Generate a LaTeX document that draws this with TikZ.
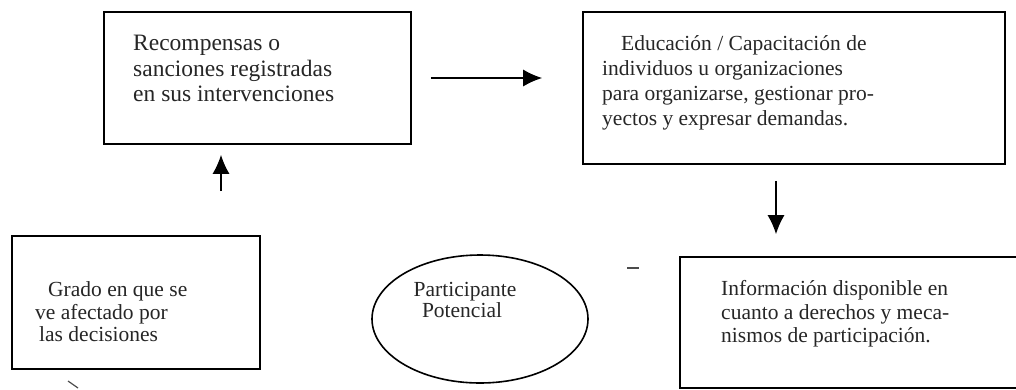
\documentclass[tikz,border=0pt]{standalone}
\usepackage{fontspec}
\setmainfont{Liberation Serif}
\usetikzlibrary{arrows.meta,shapes.geometric}
\begin{document}
\begin{tikzpicture}[x=1pt,y=-1pt,
  box/.style={draw, line width=1.6pt, rectangle, inner sep=0pt},
  txt/.style={anchor=base west, inner sep=0pt, text=black!85, font=\fontsize{21.5}{24}\selectfont},
  bigtxt/.style={txt, font=\fontsize{23.5}{26}\selectfont},
  ctxt/.style={txt, anchor=base},
  arr/.style={line width=1.5pt, -{Latex[length=19pt,width=17pt]}},
  speck/.style={line width=1.2pt, black!70}]
\useasboundingbox (0,0) rectangle (1016,389);
\fill[white] (0,0) rectangle (1016,389);
% boxes
\node[box, minimum width=307pt, minimum height=132pt] (b1) at (257.5,78) {};
\node[box, minimum width=422pt, minimum height=152pt] (b2) at (794,88) {};
\node[box, minimum width=248pt, minimum height=133pt] (b3) at (136,302.5) {};
\node[box, minimum width=342pt, minimum height=131pt] (b4) at (851,322.5) {};
\node[draw, ellipse, line width=1.6pt, minimum width=216pt, minimum height=128pt, inner sep=0pt] (e) at (480,319) {};
% texts
\node[bigtxt] (t1a) at (133,50) {Recompensas o};
\node[bigtxt] (t1b) at (133,76) {sanciones registradas};
\node[bigtxt] (t1c) at (133,101) {en sus intervenciones};
\node[txt] (t2a) at (621,50) {Educación / Capacitación de};
\node[txt] (t2b) at (602,75) {individuos u organizaciones};
\node[txt] (t2c) at (602,100) {para organizarse, gestionar pro-};
\node[txt] (t2d) at (602,125) {yectos y expresar demandas.};
\node[txt] (t3a) at (48,296) {Grado en que se};
\node[txt] (t3b) at (35,319) {ve afectado por};
\node[txt] (t3c) at (39,341) {las decisiones};
\node[txt] (t4a) at (721,295) {Información disponible en};
\node[txt] (t4b) at (721,319) {cuanto a derechos y meca-};
\node[txt] (t4c) at (721,342) {nismos de participación.};
\node[ctxt] (tea) at (465,296) {Participante};
\node[ctxt] (teb) at (462,317) {Potencial};
% arrows
\coordinate (upx) at (221,0);
\coordinate (dnx) at (776,0);
\draw[arr, shorten <=19pt, shorten >=40pt] (b1.east) -- (b1.east -| b2.west);
\draw[arr, shorten <=44pt, shorten >=10pt] (b3.north -| upx) -- (b1.south -| upx);
\draw[arr, shorten <=16pt, shorten >=22pt] (b2.south -| dnx) -- (b4.north -| dnx);
% small marks
\draw[speck] (627,268) -- (639,268);
\draw[speck] (68,381) -- (78,388);
\end{tikzpicture}
\end{document}
